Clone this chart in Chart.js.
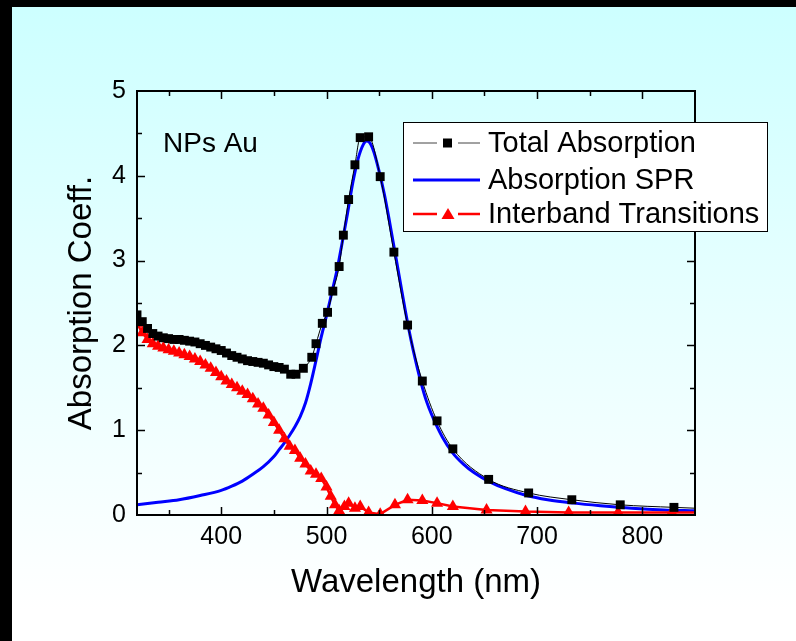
<!DOCTYPE html>
<html lang="en">
<head>
<meta charset="UTF-8">
<title>NPs Au absorption</title>
<script src="https://cdn.jsdelivr.net/npm/chart.js"></script>
<style>
  html, body { margin: 0; padding: 0; overflow: hidden; width: 100%; height: 100%; }
  html { background: #fff; }
  body {
    background: linear-gradient(to bottom, #ccffff 0px, #e6ffff 290px, #ffffff 610px);
    background-attachment: fixed;
  }
  #barTop { position: fixed; left: 0; top: 0; width: 100%; height: 7px; background: #000; }
  #barLeft { position: fixed; left: 0; top: 0; width: 12px; height: 100%; background: #000; }
  #chart { position: fixed; left: 0; top: 0; }
</style>
</head>
<body>
<div id="barTop"></div>
<div id="barLeft"></div>
<canvas id="chart" width="796" height="641"></canvas>
<script>
// Total absorption (black squares)
const totalWl = [320,325,330,335,340,345,350,355,360,365,370,375,380,385,390,395,400,405,410,415,
  420,425,430,435,440,445,450,455,460,466,471,478,486,490,496,501,506,512,516,521,527,532,540,
  551,564,577,591,605,620,654,692,733,779,830,850];
const totalAbs = [2.36,2.28,2.20,2.14,2.11,2.09,2.08,2.07,2.07,2.06,2.05,2.04,2.02,2.00,1.98,1.96,1.94,1.91,1.88,1.86,
  1.84,1.82,1.81,1.80,1.79,1.77,1.75,1.74,1.72,1.66,1.66,1.73,1.86,2.02,2.26,2.39,2.64,2.93,3.30,3.72,4.13,4.45,4.46,
  3.99,3.10,2.24,1.58,1.11,0.78,0.42,0.26,0.18,0.12,0.09,0.08];

// SPR absorption (blue line)
const sprWl = [320,340,360,380,400,410,420,430,440,450,455,460,465,470,475,480,485,490,495,500,505,510,515,520,525,530,535,538,
  541,545,550,555,560,565,570,575,580,585,590,595,600,610,620,630,640,655,670,690,710,735,760,790,820,850];
const sprAbs = [0.12,0.15,0.18,0.23,0.29,0.34,0.40,0.48,0.57,0.69,0.77,0.85,0.94,1.04,1.16,1.32,1.55,1.82,2.10,2.35,2.62,2.89,3.22,3.56,3.92,4.20,4.37,4.41,
  4.39,4.28,4.05,3.78,3.45,3.10,2.75,2.40,2.08,1.80,1.55,1.34,1.18,0.92,0.73,0.60,0.50,0.39,0.31,0.23,0.18,0.14,0.11,0.08,0.06,0.05];

// Interband transitions (red triangles)
const interWl = [320,325,330,335,340,345,350,355,360,365,370,375,380,385,390,395,400,405,410,415,420,425,430,435,440,
  445,450,455,460,465,470,475,480,485,490,495,500,504,508,512,517,521,527,532,540,551,565,577,591,605,620,652,689,730,777,828,850];
const interAbs = [2.26,2.15,2.07,2.02,1.99,1.97,1.95,1.93,1.91,1.89,1.87,1.84,1.81,1.77,1.73,1.68,1.63,1.58,1.54,1.50,1.46,1.42,1.37,1.31,1.26,
  1.18,1.09,1.00,0.90,0.81,0.76,0.67,0.60,0.52,0.48,0.43,0.33,0.22,0.12,0.05,0.10,0.14,0.08,0.10,0.03,0.01,0.12,0.18,0.17,0.14,0.10,0.06,0.04,0.03,0.03,0.03,0.03];

const xMajor = [400, 500, 600, 700, 800];
const xMinor = [350, 450, 550, 650, 750];
const yMajor = [1, 2, 3, 4];
const yMinor = [0.5, 1.5, 2.5, 3.5, 4.5];
const legendNames = ['Total Absorption', 'Absorption SPR', 'Interband Transitions'];
const sampleName = 'NPs Au';

const FONT = "'Liberation Sans', Arial, sans-serif";

function pts(xs, ys) {
  return xs.map((x, i) => ({ x: x, y: ys[i] }));
}
// no marker on the last point (line keeps going to the axis edge)
function radiusSkipLast(r) {
  return ctx => ctx.dataIndex === ctx.dataset.data.length - 1 ? 0 : r;
}

const framePlugin = {
  id: 'frame',
  afterDatasetsDraw(chart) {
    const { ctx, chartArea: a, scales: { x, y } } = chart;
    ctx.save();
    ctx.strokeStyle = '#000';
    ctx.lineWidth = 1.5;
    ctx.beginPath();
    // inward ticks on all four sides
    xMajor.concat(xMinor).forEach(v => {
      const len = xMajor.includes(v) ? 8 : 5;
      const px = Math.round(x.getPixelForValue(v)) + 0.5;
      ctx.moveTo(px, a.bottom); ctx.lineTo(px, a.bottom - len);
      ctx.moveTo(px, a.top); ctx.lineTo(px, a.top + len);
    });
    yMajor.concat(yMinor).forEach(v => {
      const len = yMajor.includes(v) ? 8 : 5;
      const py = Math.round(y.getPixelForValue(v)) + 0.5;
      ctx.moveTo(a.left, py); ctx.lineTo(a.left + len, py);
      ctx.moveTo(a.right, py); ctx.lineTo(a.right - len, py);
    });
    ctx.stroke();
    ctx.lineWidth = 2;
    ctx.strokeRect(a.left, a.top, a.right - a.left, a.bottom - a.top);

    // sample label
    ctx.fillStyle = '#000';
    ctx.font = '28px ' + FONT;
    ctx.textBaseline = 'middle';
    ctx.fillText(sampleName, 163, 144);

    // legend box
    const bx = 403, by = 122, bw = 364, bh = 109;
    ctx.fillStyle = '#fff';
    ctx.fillRect(bx, by, bw, bh);
    ctx.lineWidth = 1;
    ctx.strokeRect(bx + 0.5, by + 0.5, bw, bh);
    const rows = [143, 180, 214];
    chart.data.datasets.forEach((ds, i) => {
      const ry = rows[i];
      ctx.strokeStyle = i === 0 ? '#444' : ds.borderColor;
      ctx.lineWidth = i === 0 ? 1 : ds.borderWidth;
      ctx.beginPath();
      if (ds.pointStyle === false) {
        ctx.moveTo(413, ry); ctx.lineTo(480, ry);
      } else {
        ctx.moveTo(413, ry); ctx.lineTo(437, ry);
        ctx.moveTo(458, ry); ctx.lineTo(480, ry);
      }
      ctx.stroke();
      ctx.fillStyle = ds.borderColor;
      if (ds.pointStyle === 'rect') {
        ctx.fillRect(443, ry - 4.5, 9, 9);
      } else if (ds.pointStyle === 'triangle') {
        ctx.beginPath();
        ctx.moveTo(448, ry - 6); ctx.lineTo(454.5, ry + 5); ctx.lineTo(441.5, ry + 5);
        ctx.closePath(); ctx.fill();
      }
      ctx.fillStyle = '#000';
      ctx.font = '29px ' + FONT;
      ctx.fillText(legendNames[i], 488, ry + 1);
    });
    ctx.restore();
  }
};

new Chart(document.getElementById('chart'), {
  type: 'line',
  data: {
    datasets: [{
      label: legendNames[0],
      data: pts(totalWl, totalAbs),
      borderColor: '#000',
      backgroundColor: '#000',
      borderWidth: 1,
      pointStyle: 'rect',
      pointRadius: radiusSkipLast(6.3),
      pointBorderWidth: 0,
      cubicInterpolationMode: 'monotone',
      order: 1
    }, {
      label: legendNames[1],
      data: pts(sprWl, sprAbs),
      borderColor: '#0000ff',
      borderWidth: 3,
      pointStyle: false,
      pointRadius: 0,
      cubicInterpolationMode: 'monotone',
      order: 3
    }, {
      label: legendNames[2],
      data: pts(interWl, interAbs),
      borderColor: '#ff0000',
      backgroundColor: '#ff0000',
      borderWidth: 2.5,
      pointStyle: 'triangle',
      pointRadius: radiusSkipLast(7),
      pointBorderWidth: 0,
      tension: 0,
      order: 2
    }]
  },
  options: {
    responsive: false,
    animation: false,
    devicePixelRatio: 1,
    layout: { padding: { left: 12, top: 91, right: 101, bottom: 0 } },
    plugins: { legend: { display: false }, tooltip: { enabled: false } },
    scales: {
      x: {
        type: 'linear',
        min: 320,
        max: 850,
        afterFit: s => { s.height = 126; },
        afterBuildTicks: s => { s.ticks = xMajor.map(v => ({ value: v })); },
        grid: { display: false, drawTicks: false },
        border: { display: false },
        ticks: { color: '#000', padding: 7, maxRotation: 0, font: { family: FONT, size: 25 } },
        title: {
          display: true,
          text: 'Wavelength (nm)',
          color: '#000',
          padding: { top: 0, bottom: 38 },
          font: { family: FONT, size: 33 }
        }
      },
      y: {
        min: 0,
        max: 5,
        afterFit: s => { s.width = 125; },
        grid: { display: false, drawTicks: false },
        border: { display: false },
        ticks: { stepSize: 1, color: '#000', padding: 11, font: { family: FONT, size: 25 } },
        title: {
          display: true,
          text: 'Absorption Coeff.',
          color: '#000',
          padding: { top: 50, bottom: 0 },
          font: { family: FONT, size: 33 }
        }
      }
    }
  },
  plugins: [framePlugin]
});
</script>
</body>
</html>
